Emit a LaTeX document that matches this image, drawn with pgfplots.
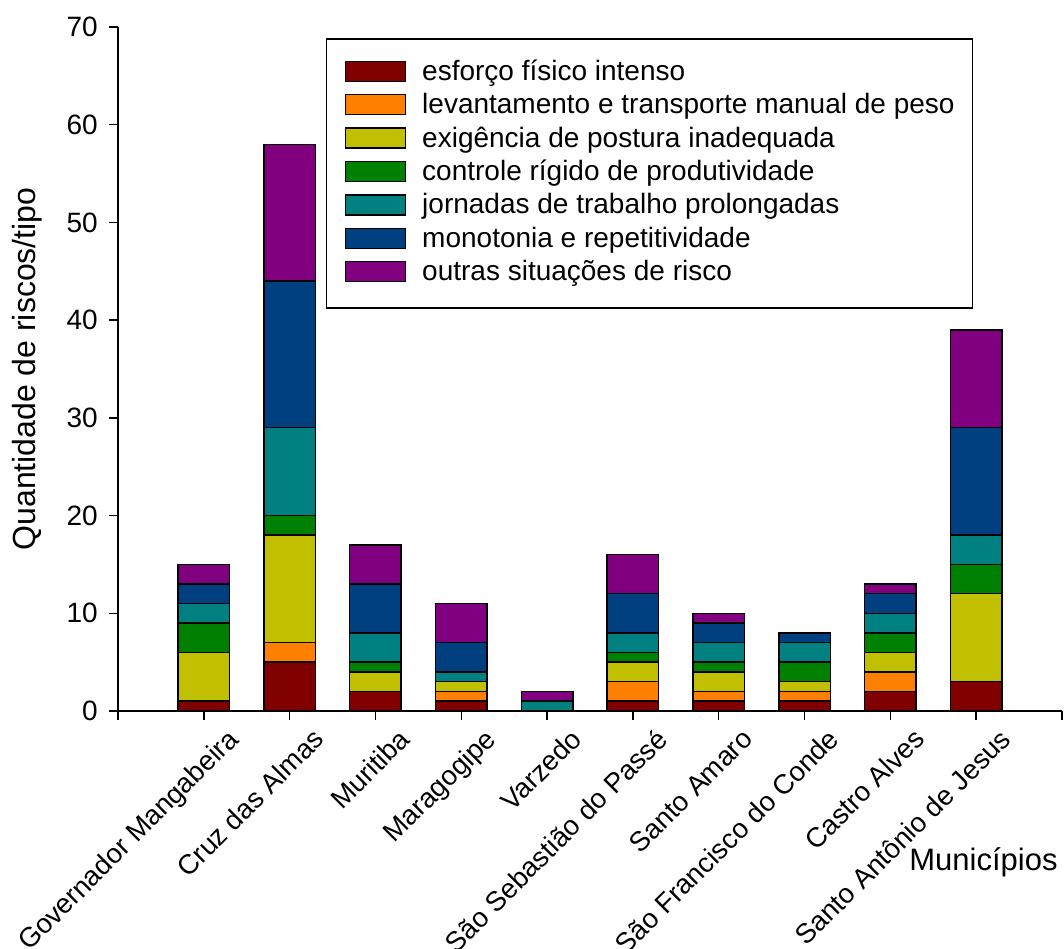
\documentclass[border=0pt]{standalone}
\usepackage{pgfplots}
\usepackage{pgfplotstable}
\pgfplotsset{compat=1.18}
\usepackage{fontspec}
\setmainfont{Liberation Sans}

\definecolor{cEsf}{RGB}{128,0,0}
\definecolor{cLev}{RGB}{255,128,0}
\definecolor{cPos}{RGB}{192,192,0}
\definecolor{cCon}{RGB}{0,128,0}
\definecolor{cJor}{RGB}{0,128,128}
\definecolor{cMon}{RGB}{0,64,128}
\definecolor{cOut}{RGB}{128,0,128}

% risks per type, one row per municipality (idx = position on the x axis)
\pgfplotstableread{
idx esf lev pos con jor mon out
0   1   0   5   3   2   2   2
1   5   2   11  2   9   15  14
2   2   0   2   1   3   5   4
3   1   1   1   0   1   3   4
4   0   0   0   0   1   0   1
5   1   2   2   1   2   4   4
6   1   1   2   1   2   2   1
7   1   1   1   2   2   1   0
8   2   2   2   2   2   2   1
9   3   0   9   3   3   11  10
}\riscos

\pgfplotsset{
  riskbar/.style={
    fill=#1, draw=black, line width=1.5bp,
    legend image code/.code={%
      \draw[fill=#1, draw=black, line width=1.5bp] (0bp,-8bp) rectangle (60bp,12bp);}
  }
}

\begin{document}
\begin{tikzpicture}
\useasboundingbox (0bp,0bp) rectangle (1064bp,949bp);
\begin{axis}[
  at={(118bp,238bp)}, anchor=south west,
  width=944bp, height=684bp, scale only axis,
  ybar stacked, bar width=0.6,
  xmin=-1, xmax=10, ymin=0, ymax=70,
  axis x line=bottom, axis y line=left,
  axis line style={-, line width=1.5bp, black},
  xtick={-1,0,...,10},
  xticklabels={{},Governador Mangabeira,Cruz das Almas,Muritiba,Maragogipe,Varzedo,São Sebastião do Passé,Santo Amaro,São Francisco do Conde,Castro Alves,Santo Antônio de Jesus,{}},
  ytick={0,10,...,70},
  tick align=outside, major tick length=9bp,
  tick style={line width=1.5bp, black},
  /pgf/number format/assume math mode=true,
  yticklabel style={font=\fontsize{28bp}{33bp}\selectfont, inner xsep=11bp, inner ysep=3bp},
  xticklabel style={font=\fontsize{27.5bp}{33bp}\selectfont, xshift=22bp, yshift=-4bp, rotate=45, anchor=north east, inner sep=2bp},
  ylabel={Quantidade de riscos/tipo},
  ylabel style={font=\fontsize{32bp}{38bp}\selectfont, at={(axis description cs:-0.0964,0.5)}, anchor=center},
  xlabel={Municípios},
  xlabel style={font=\fontsize{31bp}{37bp}\selectfont, at={(axis description cs:0.999,-0.2325)}, anchor=base east},
  legend style={
    at={(axis description cs:0.2203,0.9839)}, anchor=north west,
    draw=black, line width=1.5bp, fill=white,
    inner xsep=18bp, inner ysep=21.5bp, row sep=7.4bp,
    font=\fontsize{28bp}{33bp}\selectfont,
    nodes={inner sep=0pt, text height=20bp, text depth=6bp},
    /tikz/every odd column/.append style={column sep=16bp},
  },
  legend cell align=left,
]
\addplot+[riskbar=cEsf] table[x=idx, y=esf] {\riscos};
\addplot+[riskbar=cLev] table[x=idx, y=lev] {\riscos};
\addplot+[riskbar=cPos] table[x=idx, y=pos] {\riscos};
\addplot+[riskbar=cCon] table[x=idx, y=con] {\riscos};
\addplot+[riskbar=cJor] table[x=idx, y=jor] {\riscos};
\addplot+[riskbar=cMon] table[x=idx, y=mon] {\riscos};
\addplot+[riskbar=cOut] table[x=idx, y=out] {\riscos};
\legend{esforço físico intenso, levantamento e transporte manual de peso, exigência de postura inadequada, controle rígido de produtividade, jornadas de trabalho prolongadas, monotonia e repetitividade, outras situações de risco}
\end{axis}
\end{tikzpicture}
\end{document}
